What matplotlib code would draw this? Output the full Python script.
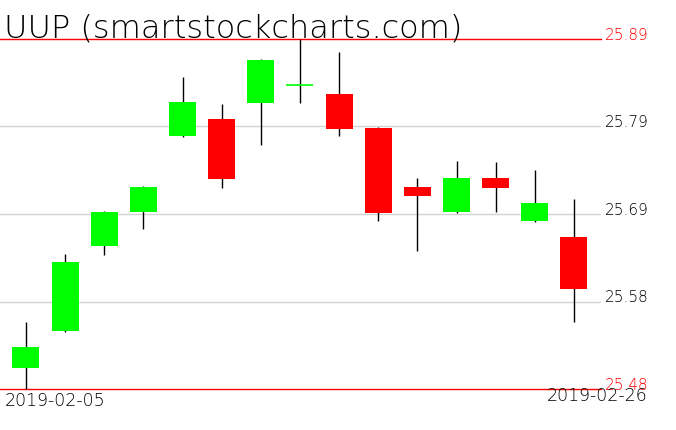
import matplotlib
matplotlib.use("Agg")
import matplotlib.pyplot as plt
from matplotlib.patches import Rectangle
import matplotlib.transforms as mtransforms

ticker_title = "UUP (smartstockcharts.com)"
dates = ["2019-02-05", "2019-02-06", "2019-02-07", "2019-02-08", "2019-02-11",
         "2019-02-12", "2019-02-13", "2019-02-14", "2019-02-15", "2019-02-19",
         "2019-02-20", "2019-02-21", "2019-02-22", "2019-02-25", "2019-02-26"]
opens  = [25.505, 25.548, 25.647, 25.687, 25.776, 25.796, 25.815, 25.836, 25.826, 25.786,
          25.717, 25.687, 25.727, 25.677, 25.658]
highs  = [25.558, 25.638, 25.688, 25.718, 25.845, 25.814, 25.866, 25.890, 25.875, 25.787,
          25.727, 25.747, 25.746, 25.737, 25.703]
lows   = [25.480, 25.547, 25.637, 25.667, 25.775, 25.716, 25.766, 25.815, 25.776, 25.677,
          25.642, 25.686, 25.687, 25.676, 25.558]
closes = [25.529, 25.629, 25.687, 25.717, 25.816, 25.726, 25.865, 25.836, 25.785, 25.686,
          25.706, 25.727, 25.716, 25.698, 25.597]
price_min = 25.48
price_max = 25.89
grid_levels = [25.5825, 25.685, 25.7875]
grid_labels = ["25.58", "25.69", "25.79"]
range_labels = ["25.48", "25.89"]

W, H = 676, 431
fig = plt.figure(figsize=(W / 100, H / 100), dpi=100)
fig.patch.set_facecolor("white")

ax = fig.add_axes([0, (H - 390) / H, 601 / W, 350 / H])
ax.set_xlim(-26 / 39.14, (601 - 26) / 39.14)
ax.set_ylim(price_min, price_max)
ax.axis("off")

fam = ["DejaVu Sans"]
wt = 200
blend = mtransforms.blended_transform_factory(ax.transAxes, ax.transData)

for lv, lab in zip(grid_levels, grid_labels):
    ax.axhline(lv, color="#d3d3d3", lw=1.0, zorder=1)
    ax.text(1.0 + 4 / 601, lv, lab, transform=blend, color="black",
            fontsize=11, family=fam, fontweight=wt, ha="left", va="baseline",
            clip_on=False)
for lv, lab in zip((price_min, price_max), range_labels):
    ax.axhline(lv, color="red", lw=1.0, zorder=1, clip_on=False)
    ax.text(1.0 + 4 / 601, lv, lab, transform=blend, color="red",
            fontsize=11, family=fam, fontweight=wt, ha="left", va="baseline",
            clip_on=False)

bw = 27 / 39.14
for i, (o, h, l, c) in enumerate(zip(opens, highs, lows, closes)):
    col = "#00ff00" if c >= o else "#ff0000"
    ax.vlines(i, l, h, color="black", lw=1.0, zorder=2, clip_on=False)
    if abs(c - o) < 1e-9:
        ax.hlines(o, i - bw / 2, i + bw / 2, color=col, lw=1.2, zorder=3)
    else:
        ax.add_patch(Rectangle((i - bw / 2, min(o, c)), bw, abs(c - o),
                               facecolor=col, edgecolor="none", zorder=3))

fig.text(4 / W, 1 - 38 / H, ticker_title, fontsize=23, family=fam,
         fontweight=wt, ha="left", va="baseline")
fig.text(5 / W, 1 - 406 / H, dates[0], fontsize=12.5, family=fam,
         fontweight=wt, ha="left", va="baseline")
fig.text(647 / W, 1 - 401 / H, dates[-1], fontsize=12.5, family=fam,
         fontweight=wt, ha="right", va="baseline")

fig.savefig("out.png", dpi=100, facecolor="white")
